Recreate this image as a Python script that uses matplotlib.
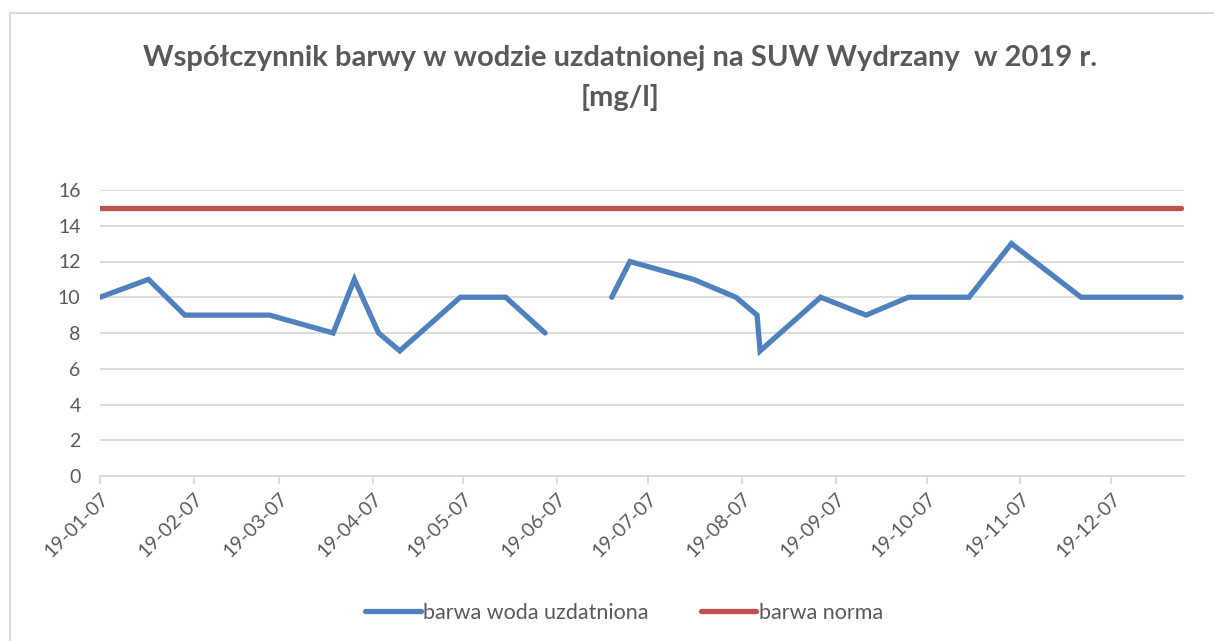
import numpy as np
import pandas as pd
import matplotlib
matplotlib.use("Agg")
import matplotlib.pyplot as plt
import matplotlib.dates as mdates
from matplotlib.patches import Rectangle

plt.rcParams['font.family'] = ['Lato', 'DejaVu Sans']

# measurement dates (2019) and colour values [mg/l]; NaN = no sample (gap in line)
dates = ['2019-01-07', '2019-01-23', '2019-02-04', '2019-03-04', '2019-03-25',
         '2019-04-01', '2019-04-09', '2019-04-16', '2019-05-06', '2019-05-21',
         '2019-06-03', '2019-06-14', '2019-06-25', '2019-07-01', '2019-07-22',
         '2019-08-05', '2019-08-12', '2019-08-13', '2019-09-02', '2019-09-17',
         '2019-10-01', '2019-10-21', '2019-11-04', '2019-11-27', '2019-12-30']
barwa = [10, 11, 9, 9, 8,
         11, 8, 7, 10, 10,
         8, np.nan, 10, 12, 11,
         10, 9, 7, 10, 9,
         10, 10, 13, 10, 10]
norma = [15] * len(dates)

tick_dates = ['2019-%02d-07' % m for m in range(1, 13)]

x = pd.to_datetime(dates)

fig = plt.figure(figsize=(12.14, 6.41), dpi=100)
ax = fig.add_axes([100/1214, 1 - 476/641, 1084/1214, 286/641])

# chart border (Excel chart area)
fig.patches.append(Rectangle((10/1214, -0.1), 1.2, (641-13)/641 + 0.1,
                             transform=fig.transFigure, fill=False,
                             edgecolor='#d9d9d9', linewidth=1.5))

ax.plot(x, barwa, color='#4f81bd', linewidth=3.8, solid_capstyle='round',
        solid_joinstyle='miter', label='barwa woda uzdatniona')
ax.plot(x, norma, color='#c0504d', linewidth=3.8, solid_capstyle='round',
        label='barwa norma')

ax.set_xlim(x[0], x[-1] + pd.Timedelta(days=1))
ax.set_ylim(0, 16)
ax.set_yticks(range(0, 17, 2))
ax.yaxis.grid(True, color='#d9d9d9', linewidth=1.3)
ax.set_axisbelow(True)

ax.set_xticks(pd.to_datetime(tick_dates))
ax.xaxis.set_major_formatter(mdates.DateFormatter('%y-%m-%d'))
plt.setp(ax.get_xticklabels(), rotation=45, ha='right', rotation_mode='anchor')

for s in ['top', 'right', 'left']:
    ax.spines[s].set_visible(False)
ax.spines['bottom'].set_color('#d9d9d9')
ax.spines['bottom'].set_linewidth(1.3)
ax.tick_params(axis='y', length=0, pad=14, labelsize=14, labelcolor='#595959')
ax.tick_params(axis='x', length=6, width=1.3, color='#d9d9d9', pad=4,
               labelsize=14, labelcolor='#595959')

fig.text(0.511, 1 - 78/641, 'Współczynnik barwy w wodzie uzdatnionej na SUW Wydrzany  w 2019 r.\n[mg/l]',
         ha='center', va='center', fontsize=21, fontweight='bold', color='#595959',
         linespacing=1.55)

fig.legend(loc='center', bbox_to_anchor=(0.514, 1 - 613/641), ncol=2, frameon=False,
           fontsize=15.5, labelcolor='#595959', handlelength=2.6, handletextpad=0.1,
           columnspacing=2.4)

fig.savefig('out.png', dpi=100)
